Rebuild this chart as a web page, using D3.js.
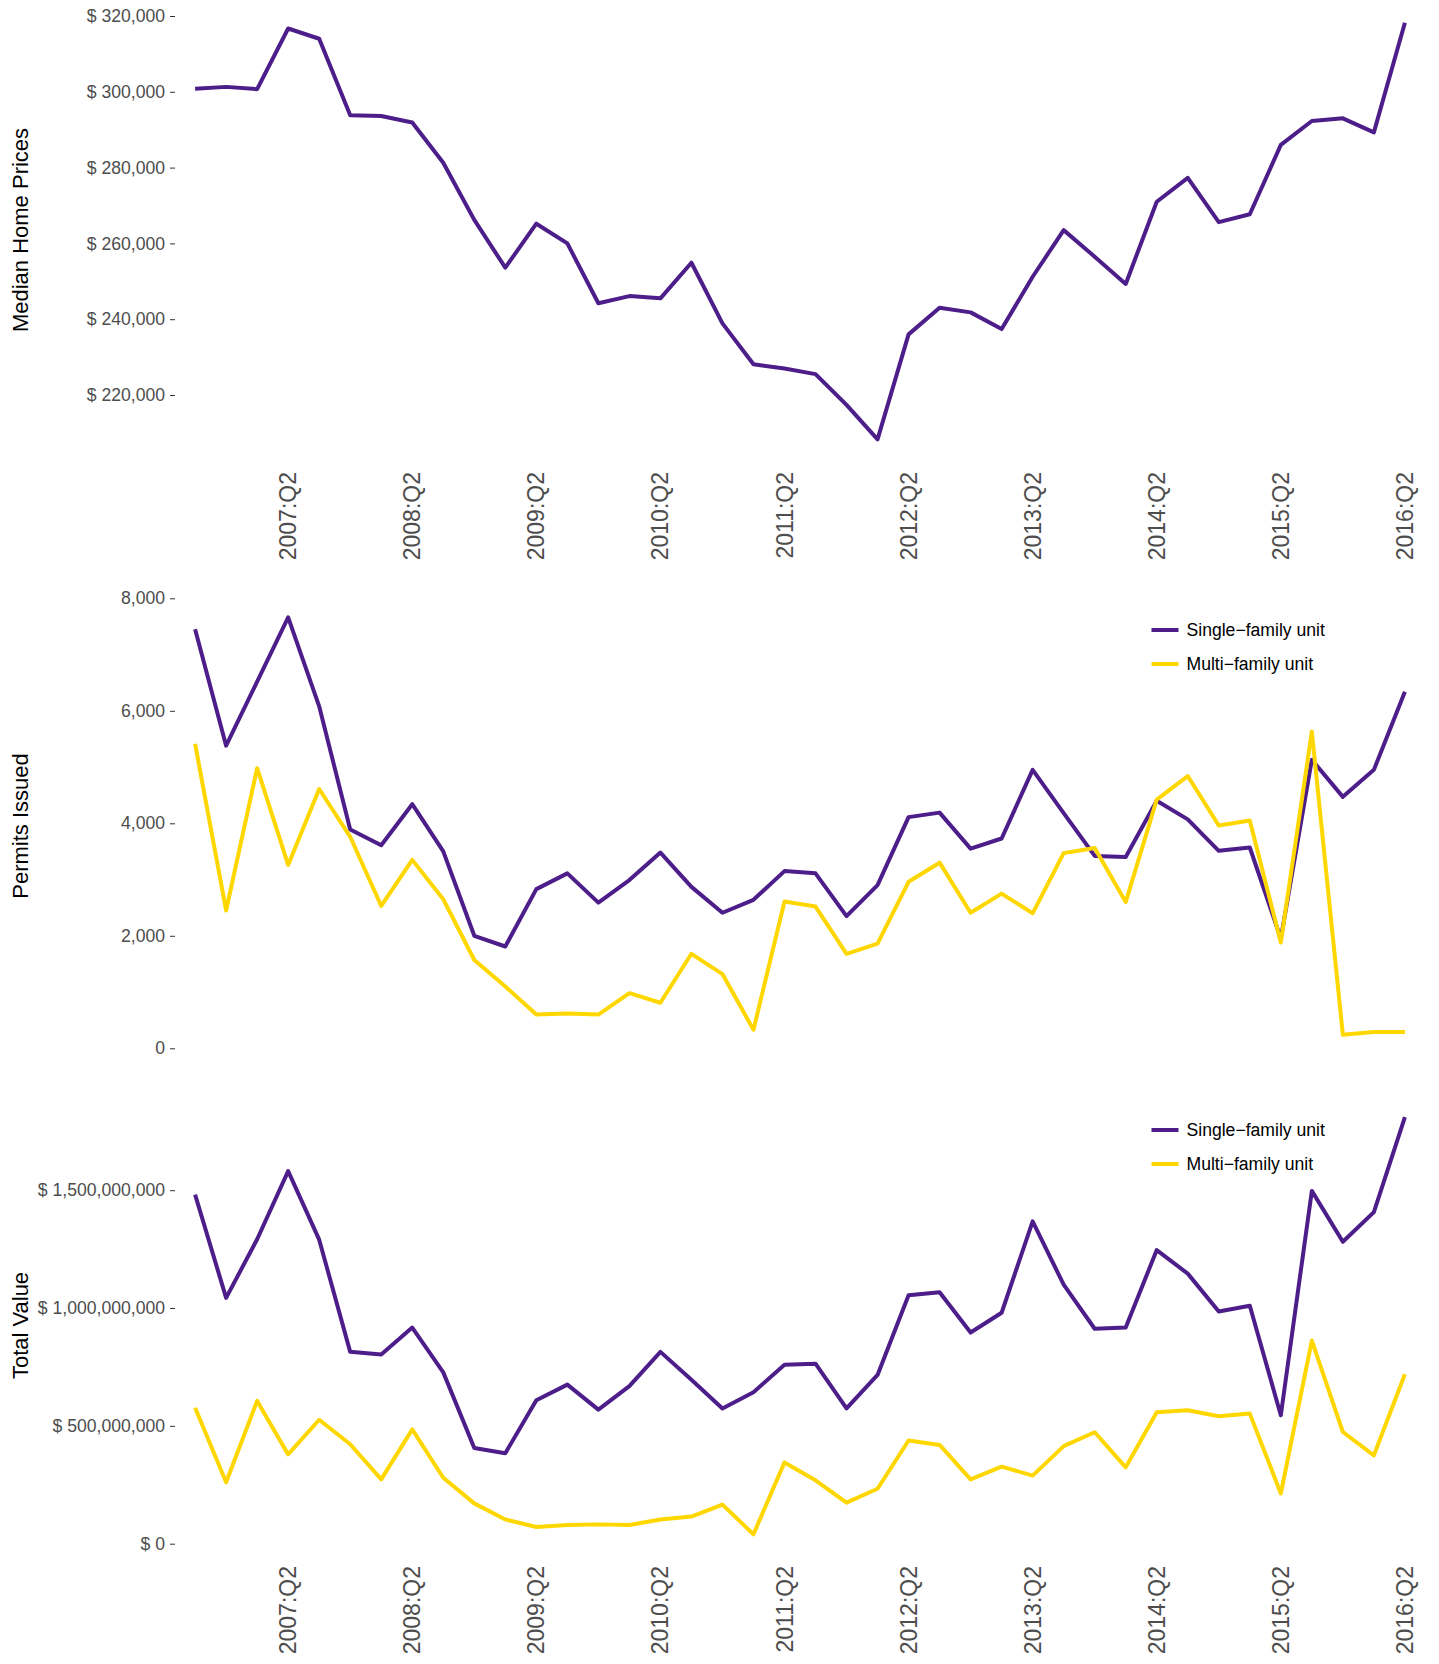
<!DOCTYPE html>
<html>
<head>
<meta charset="utf-8">
<script src="https://cdn.jsdelivr.net/npm/d3@7"></script>
<style>
body { margin: 0; background: #fff; }
svg { display: block; font-family: "Liberation Sans", Arial, sans-serif; }
.tick line { stroke: #333; }
.tick text { fill: #4d4d4d; font-size: 17.6px; }
</style>
</head>
<body>
<svg id="chart" width="1439" height="1664"></svg>
<script>
var quarters = ["2006:Q3","2006:Q4","2007:Q1","2007:Q2","2007:Q3","2007:Q4","2008:Q1","2008:Q2",
	"2008:Q3","2008:Q4","2009:Q1","2009:Q2","2009:Q3","2009:Q4","2010:Q1","2010:Q2",
	"2010:Q3","2010:Q4","2011:Q1","2011:Q2","2011:Q3","2011:Q4","2012:Q1","2012:Q2",
	"2012:Q3","2012:Q4","2013:Q1","2013:Q2","2013:Q3","2013:Q4","2014:Q1","2014:Q2",
	"2014:Q3","2014:Q4","2015:Q1","2015:Q2","2015:Q3","2015:Q4","2016:Q1","2016:Q2"];
var tickLabels = ["2007:Q2","2008:Q2","2009:Q2","2010:Q2","2011:Q2","2012:Q2","2013:Q2","2014:Q2","2015:Q2","2016:Q2"];

var homePrices = [300800, 301300, 300700, 316700, 314000, 293800, 293600, 291900, 281300, 266200,
	253600, 265200, 260000, 244200, 246100, 245500, 254900, 238900, 228100, 227000,
	225500, 217400, 208300, 236000, 243000, 241800, 237400, 251200, 263500, 256500,
	249300, 271000, 277300, 265600, 267700, 286000, 292300, 293000, 289300, 318200];

var permitsSingle = [7450, 5380, 6520, 7660, 6080, 3890, 3610, 4340, 3500, 2000,
	1810, 2830, 3110, 2590, 2990, 3480, 2870, 2410, 2640, 3150,
	3110, 2350, 2900, 4110, 4190, 3550, 3730, 4950, 4180, 3420,
	3400, 4400, 4070, 3510, 3570, 1950, 5130, 4470, 4950, 6340];
var permitsMulti = [5410, 2450, 4980, 3260, 4610, 3760, 2530, 3350, 2650, 1570,
	1100, 600, 620, 600, 980, 810, 1680, 1320, 330, 2610,
	2520, 1680, 1860, 2960, 3300, 2410, 2750, 2400, 3470, 3560,
	2600, 4420, 4840, 3960, 4050, 1880, 5630, 240, 290, 290];

var valueSingle = [1481e6, 1043e6, 1292e6, 1581e6, 1290e6, 814e6, 803e6, 917e6, 727e6, 406e6,
	384e6, 609e6, 675e6, 569e6, 669e6, 814e6, 696e6, 574e6, 643e6, 759e6,
	764e6, 574e6, 716e6, 1054e6, 1067e6, 896e6, 980e6, 1368e6, 1099e6, 912e6,
	917e6, 1246e6, 1146e6, 985e6, 1010e6, 545e6, 1497e6, 1281e6, 1407e6, 1810e6];
var valueMulti = [577e6, 261e6, 606e6, 379e6, 526e6, 422e6, 273e6, 485e6, 280e6, 171e6,
	103e6, 71e6, 79e6, 82e6, 79e6, 103e6, 115e6, 166e6, 40e6, 345e6,
	269e6, 174e6, 233e6, 438e6, 419e6, 273e6, 327e6, 289e6, 414e6, 473e6,
	324e6, 558e6, 566e6, 541e6, 552e6, 213e6, 862e6, 474e6, 375e6, 719e6];

var seriesNames = ["Single\u2212family unit", "Multi\u2212family unit"];
var PURPLE = "#4d1d8a";
var GOLD = "#ffd700";

var svg = d3.select("#chart");
var x = d3.scalePoint().domain(quarters).range([195.1, 1404.9]);

var comma = d3.format(",");
var dollar = function(d) { return "$ " + comma(d); };

var panels = [
	{ title: "Median Home Prices", titleY: 230, domain: [220000, 320000], range: [395, 16],
	  ticks: [220000, 240000, 260000, 280000, 300000, 320000], fmt: dollar,
	  series: [homePrices], labelsY: 472, legendY: null },
	{ title: "Permits Issued", titleY: 826, domain: [0, 8000], range: [1048.3, 598.3],
	  ticks: [0, 2000, 4000, 6000, 8000], fmt: comma,
	  series: [permitsSingle, permitsMulti], labelsY: null, legendY: 630 },
	{ title: "Total Value", titleY: 1325.5, domain: [0, 1.5e9], range: [1543.7, 1190.2],
	  ticks: [0, 5e8, 1e9, 1.5e9], fmt: dollar,
	  series: [valueSingle, valueMulti], labelsY: 1566, legendY: 1130 }
];
var colors = [PURPLE, GOLD];

panels.forEach(function(p) {
	var y = d3.scaleLinear().domain(p.domain).range(p.range);
	var g = svg.append("g");

	// y axis, ticks only
	var ax = g.append("g").attr("transform", "translate(175,0)")
		.call(d3.axisLeft(y).tickValues(p.ticks).tickFormat(p.fmt).tickSize(5).tickPadding(5));
	ax.select(".domain").remove();
	ax.selectAll("text").attr("font-family", null).attr("font-size", null);

	g.append("text")
		.attr("transform", "translate(27.5," + p.titleY + ") rotate(-90)")
		.attr("text-anchor", "middle")
		.attr("font-size", "22px")
		.attr("fill", "#000")
		.text(p.title);

	var line = d3.line()
		.x(function(d, i) { return x(quarters[i]); })
		.y(function(d) { return y(d); });

	// draw gold under? no - single first, multi on top
	p.series.forEach(function(s, k) {
		g.append("path")
			.datum(s)
			.attr("d", line)
			.attr("fill", "none")
			.attr("stroke", colors[k])
			.attr("stroke-width", 4)
			.attr("stroke-linejoin", "round")
			.attr("stroke-linecap", "butt");
	});

	if (p.labelsY !== null) {
		g.selectAll(".xlab").data(tickLabels).enter().append("text")
			.attr("transform", function(d) { return "translate(" + x(d) + "," + p.labelsY + ") rotate(-90)"; })
			.attr("text-anchor", "end")
			.attr("dy", "0.35em")
			.attr("font-size", "23px")
			.attr("fill", "#4d4d4d")
			.text(function(d) { return d; });
	}

	if (p.legendY !== null) {
		seriesNames.forEach(function(name, k) {
			var ly = p.legendY + k * 34;
			g.append("line")
				.attr("x1", 1151.5).attr("x2", 1178.5)
				.attr("y1", ly).attr("y2", ly)
				.attr("stroke", colors[k]).attr("stroke-width", 4);
			g.append("text")
				.attr("x", 1186.5).attr("y", ly)
				.attr("dy", "0.35em")
				.attr("font-size", "17.6px")
				.attr("fill", "#000")
				.text(name);
		});
	}
});
</script>
</body>
</html>
